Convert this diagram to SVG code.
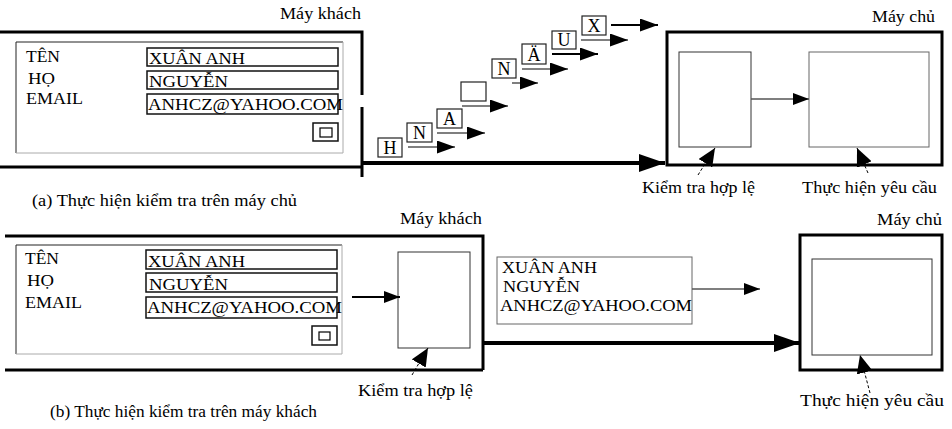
<svg xmlns="http://www.w3.org/2000/svg" width="952" height="429" viewBox="0 0 952 429">
<style>
.t{font-family:"Liberation Serif","Times New Roman",serif;font-size:17px;fill:#000}
.s{font-family:"Liberation Serif","Times New Roman",serif;font-size:16px;fill:#000}
.p{font-family:"Liberation Serif","Times New Roman",serif;font-size:18px;fill:#000}
.box{fill:none;stroke:#000;stroke-width:3}
.thin{fill:none;stroke:#333;stroke-width:1}
.inp{fill:#fff;stroke:#111;stroke-width:1.5}
.pk{fill:#fff;stroke:#222;stroke-width:1.2}
.ln{fill:none;stroke:#555;stroke-width:1.5}
.lnb{fill:none;stroke:#000;stroke-width:2}
.thick{fill:none;stroke:#000;stroke-width:4}
.ptr{fill:none;stroke:#000;stroke-width:1;stroke-dasharray:3 2}
</style>
<defs>
<marker id="ah" markerUnits="userSpaceOnUse" markerWidth="18" markerHeight="13" refX="18" refY="6.5" orient="auto"><path d="M0,0 L18,6.5 L0,13 z" fill="#000"/></marker>
<marker id="ahs" markerUnits="userSpaceOnUse" markerWidth="16" markerHeight="12" refX="16" refY="6" orient="auto"><path d="M0,0 L16,6 L0,12 z" fill="#000"/></marker>
<marker id="ahb" markerUnits="userSpaceOnUse" markerWidth="26" markerHeight="18" refX="26" refY="9" orient="auto"><path d="M0,0 L26,9 L0,18 z" fill="#000"/></marker>
<marker id="ahp" markerUnits="userSpaceOnUse" markerWidth="18" markerHeight="16" refX="18" refY="8" orient="auto"><path d="M0,0 L18,8 L0,16 z" fill="#000"/></marker>
</defs>
<rect width="952" height="429" fill="#fff"/>

<!-- (a) top section -->
<g id="client-a">
<text class="t" x="280" y="19" textLength="81" lengthAdjust="spacingAndGlyphs">Máy khách</text>
<path class="box" d="M0,32 H362 V95 M362,107 V177 M362,167 H0"/>
<path fill="none" stroke="#222" stroke-width="1" d="M16,153 V42 H343"/>
<path fill="none" stroke="#aaa" stroke-width="1" d="M343,42 V153 H16"/>
<text class="s" x="26" y="62" textLength="34" lengthAdjust="spacingAndGlyphs">TÊN</text>
<text class="s" x="28" y="84" textLength="27" lengthAdjust="spacingAndGlyphs">HỌ</text>
<text class="s" x="26" y="104" textLength="57" lengthAdjust="spacingAndGlyphs">EMAIL</text>
<rect class="inp" x="147" y="48" width="191" height="18"/>
<rect class="inp" x="147" y="71" width="191" height="18"/>
<rect class="inp" x="147" y="94" width="191" height="20"/>
<text class="t" x="149" y="64" textLength="96" lengthAdjust="spacingAndGlyphs">XUÂN ANH</text>
<text class="t" x="149" y="87" textLength="79" lengthAdjust="spacingAndGlyphs">NGUYỄN</text>
<text class="t" x="148" y="110" textLength="195" lengthAdjust="spacingAndGlyphs">ANHCZ@YAHOO.COM</text>
<rect class="inp" x="313" y="123" width="25" height="18"/>
<rect fill="none" stroke="#000" stroke-width="1.2" x="320" y="128" width="12" height="9"/>
</g>

<g id="packets">
<rect class="pk" x="378" y="138" width="24" height="19"/><text class="p" x="390" y="154" text-anchor="middle">H</text>
<rect class="pk" x="407" y="123" width="25" height="19"/><text class="p" x="419.5" y="139" text-anchor="middle">N</text>
<rect class="pk" x="437" y="109" width="25" height="19"/><text class="p" x="449.5" y="125" text-anchor="middle">A</text>
<rect class="pk" x="461" y="82" width="25" height="19"/>
<rect class="pk" x="492" y="59" width="24" height="19"/><text class="p" x="504" y="75" text-anchor="middle">N</text>
<rect class="pk" x="522" y="44" width="24" height="20"/><text class="p" x="534" y="61" text-anchor="middle">Ä</text>
<rect class="pk" x="552" y="31" width="24" height="18"/><text class="p" x="564" y="46" text-anchor="middle">U</text>
<rect class="pk" x="582" y="16" width="24" height="19"/><text class="p" x="594" y="32" text-anchor="middle">X</text>
</g>

<g id="server-a">
<text class="t" x="872" y="22" textLength="63" lengthAdjust="spacingAndGlyphs">Máy chủ</text>
<rect class="box" x="667" y="32" width="275" height="133"/>
<rect class="thin" x="679" y="52" width="72" height="95"/>
<rect fill="none" stroke="#666" stroke-width="1" x="809" y="52" width="120" height="95"/>
<text class="t" x="642" y="193" textLength="113" lengthAdjust="spacingAndGlyphs">Kiểm tra hợp lệ</text>
<text class="t" x="802" y="193" textLength="135" lengthAdjust="spacingAndGlyphs">Thực hiện yêu cầu</text>
</g>

<text class="t" x="32" y="206" textLength="265" lengthAdjust="spacingAndGlyphs">(a) Thực hiện kiểm tra trên máy chủ</text>

<!-- (b) bottom section -->
<g id="client-b">
<text class="t" x="400" y="224" textLength="82" lengthAdjust="spacingAndGlyphs">Máy khách</text>
<path class="box" d="M5,236 H483 V370 M483,370 H5"/>
<path fill="none" stroke="#222" stroke-width="1" d="M16,354 V245 H342"/>
<path fill="none" stroke="#aaa" stroke-width="1" d="M342,245 V354 H16"/>
<text class="s" x="25" y="264" textLength="34" lengthAdjust="spacingAndGlyphs">TÊN</text>
<text class="s" x="27" y="286" textLength="27" lengthAdjust="spacingAndGlyphs">HỌ</text>
<text class="s" x="25" y="308" textLength="57" lengthAdjust="spacingAndGlyphs">EMAIL</text>
<rect class="inp" x="146" y="250" width="191" height="19"/>
<rect class="inp" x="146" y="273" width="191" height="19"/>
<rect class="inp" x="146" y="297" width="191" height="21"/>
<text class="t" x="148" y="267" textLength="97" lengthAdjust="spacingAndGlyphs">XUÂN ANH</text>
<text class="t" x="149" y="290" textLength="79" lengthAdjust="spacingAndGlyphs">NGUYỄN</text>
<text class="t" x="147" y="313" textLength="195" lengthAdjust="spacingAndGlyphs">ANHCZ@YAHOO.COM</text>
<rect class="inp" x="312" y="326" width="25" height="19"/>
<rect fill="none" stroke="#000" stroke-width="1.2" x="319" y="332" width="11" height="8"/>
</g>

<g id="validate-b">
<rect class="thin" x="398" y="252" width="72" height="96"/>
<text class="t" x="358" y="396" textLength="115" lengthAdjust="spacingAndGlyphs">Kiểm tra hợp lệ</text>
</g>

<g id="data-b">
<rect fill="#fff" stroke="#666" stroke-width="1" x="497" y="257" width="195" height="67"/>
<text class="t" x="502" y="273" textLength="95" lengthAdjust="spacingAndGlyphs">XUÂN ANH</text>
<text class="t" x="503" y="292" textLength="77" lengthAdjust="spacingAndGlyphs">NGUYỄN</text>
<text class="t" x="500" y="311" textLength="192" lengthAdjust="spacingAndGlyphs">ANHCZ@YAHOO.COM</text>
</g>

<g id="server-b">
<text class="t" x="877" y="225" textLength="65" lengthAdjust="spacingAndGlyphs">Máy chủ</text>
<rect class="box" x="800" y="235" width="142" height="135"/>
<rect class="thin" x="812" y="259" width="120" height="96"/>
<text class="t" x="800" y="406" textLength="144" lengthAdjust="spacingAndGlyphs">Thực hiện yêu cầu</text>
</g>

<text class="t" x="50" y="417" textLength="267" lengthAdjust="spacingAndGlyphs">(b) Thực hiện kiểm tra trên máy khách</text>

<g id="connectors">
<line class="ln" x1="408" y1="147" x2="455" y2="147" marker-end="url(#ah)"/>
<line class="ln" x1="437" y1="133" x2="485" y2="133" marker-end="url(#ah)"/>
<line class="ln" x1="462" y1="106" x2="508" y2="106" marker-end="url(#ah)"/>
<line class="ln" x1="512" y1="83" x2="538" y2="83" marker-end="url(#ah)"/>
<line class="ln" x1="522" y1="69" x2="568" y2="69" marker-end="url(#ah)"/>
<line class="lnb" x1="552" y1="54" x2="598" y2="54" marker-end="url(#ah)"/>
<line class="ln" x1="581" y1="40" x2="628" y2="40" marker-end="url(#ah)"/>
<line class="lnb" x1="611" y1="25" x2="658" y2="25" marker-end="url(#ah)"/>
<line class="thick" x1="362" y1="163" x2="665" y2="163" marker-end="url(#ahb)"/>
<line class="ln" x1="751" y1="99" x2="809" y2="99" marker-end="url(#ahs)"/>
<line class="ptr" x1="698" y1="175" x2="715" y2="148" marker-end="url(#ahp)"/>
<line class="ptr" x1="868" y1="173" x2="857" y2="148" marker-end="url(#ahp)"/>
<line class="lnb" x1="352" y1="297" x2="400" y2="297" marker-end="url(#ahs)"/>
<line class="ptr" x1="412" y1="375" x2="428" y2="348" marker-end="url(#ahp)"/>
<line class="thick" x1="483" y1="343" x2="800" y2="343" marker-end="url(#ahb)"/>
<line class="ln" x1="692" y1="289" x2="760" y2="289" marker-end="url(#ahs)"/>
<line class="ptr" x1="870" y1="393" x2="860" y2="355" marker-end="url(#ahp)"/>
</g>
</svg>
